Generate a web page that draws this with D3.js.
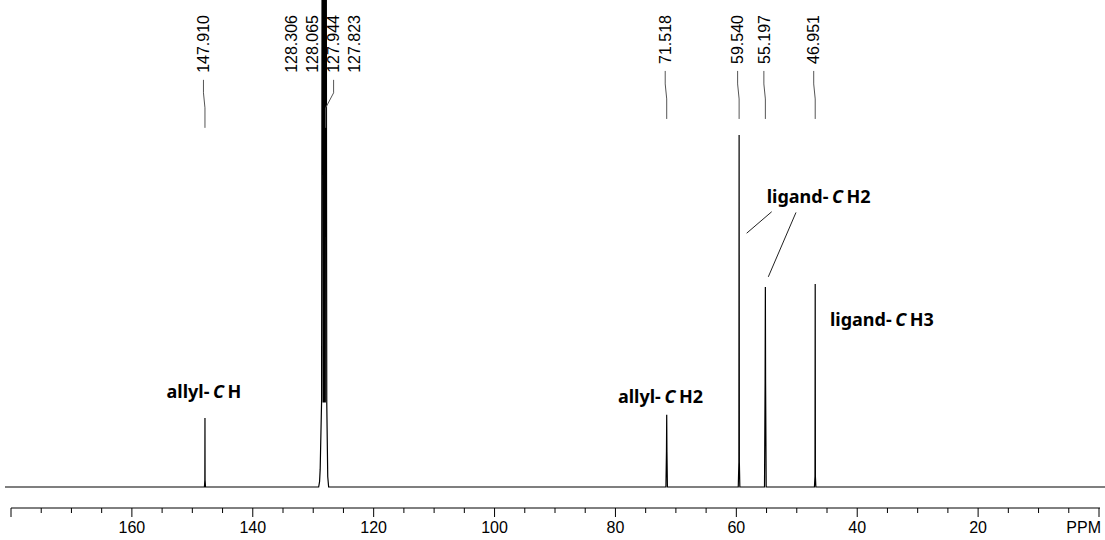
<!DOCTYPE html>
<html>
<head>
<meta charset="utf-8">
<script src="https://cdn.jsdelivr.net/npm/d3@7"></script>
<style>
  html, body { margin: 0; padding: 0; background: #fff; }
  svg { display: block; }
</style>
</head>
<body>
<svg id="chart" width="1105" height="540"></svg>
<script>
// ---------------- data ----------------
// peak-picked chemical shifts (ppm)
const peakLabels = [147.910, 128.306, 128.065, 127.944, 127.823, 71.518, 59.540, 55.197, 46.951];
// labels whose leader line is visible
const leaderShown = [147.910, 127.944, 71.518, 59.540, 55.197, 46.951];

// spectrum trace: chemical shift (ppm) and relative intensity (59.540 peak = 100)
const specPpm = [181,
  148.00, 147.93, 147.910, 147.89, 147.82,
  129.10, 128.95, 128.85, 128.62, 128.42, 128.36, 128.30, 128.24, 128.18, 128.12, 128.06, 128.00, 127.94, 127.76, 127.60, 127.45,
  71.65, 71.56, 71.518, 71.48, 71.40,
  59.68, 59.58, 59.540, 59.50, 59.42,
  55.34, 55.24, 55.197, 55.16, 55.06,
  47.08, 46.99, 46.951, 46.92, 46.84,
  -1.5];
const specInt = [0,
  0, 2, 19.6, 2, 0,
  0, 1.5, 5, 24, 320, 24, 320, 24, 320, 24, 320, 24, 320, 24, 3, 0,
  0, 10, 20.5, 10, 0,
  0, 7, 100, 7, 0,
  0, 30, 56.8, 30, 0,
  0, 3, 57.7, 3, 0,
  0];

// axis ticks
const majorTicks = [180, 160, 140, 120, 100, 80, 60, 40, 20, 0];
const tickLabels = ["", "160", "140", "120", "100", "80", "60", "40", "20", "PPM"];
const minorTicks = d3.range(5, 180, 5).filter(v => v % 20 !== 0);

// annotations: text parts [text, italic?], anchor position in (ppm, intensity)
const annotations = [
  { parts: [["allyl-", false], ["C", true], ["H", false]], ppm: 154.26, val: 25.3 },
  { parts: [["allyl-", false], ["C", true], ["H2", false]], ppm: 79.58, val: 23.9 },
  { parts: [["ligand-", false], ["C", true], ["H2", false]], ppm: 54.98, val: 80.7 },
  { parts: [["ligand-", false], ["C", true], ["H3", false]], ppm: 44.51, val: 45.8 }
];
// annotation pointer lines in (ppm, intensity)
const pointerLines = [
  [[54.15, 78.2], [58.29, 72.1]],
  [[50.13, 78.0], [54.71, 59.7]]
];

// ---------------- layout ----------------
const svg = d3.select("#chart");
const x = d3.scaleLinear().domain([180, 0]).range([11, 1099]);
const y = d3.scaleLinear().domain([0, 100]).range([487, 135]);

svg.append("defs").append("clipPath").attr("id", "clip")
  .append("rect").attr("x", 0).attr("y", 0).attr("width", 1105).attr("height", 500);

// spectrum
const pts = specPpm.map((p, i) => [p, specInt[i]]);
svg.append("path")
  .attr("clip-path", "url(#clip)")
  .attr("d", d3.line().x(d => x(d[0])).y(d => y(d[1]))(pts))
  .attr("fill", "none")
  .attr("stroke", "#000")
  .attr("stroke-width", 1.2)
  .attr("stroke-linejoin", "miter");

// axis
const axisG = svg.append("g").attr("transform", "translate(0,508)");
axisG.append("line").attr("x1", x(180)).attr("x2", x(0) + 1).attr("y1", 0).attr("y2", 0)
  .attr("stroke", "#000").attr("stroke-width", 1);
axisG.selectAll("line.major").data(majorTicks).join("line")
  .attr("class", "major")
  .attr("x1", d => x(d)).attr("x2", d => x(d)).attr("y1", 0).attr("y2", 9)
  .attr("stroke", "#000");
axisG.selectAll("line.minor").data(minorTicks).join("line")
  .attr("class", "minor")
  .attr("x1", d => x(d)).attr("x2", d => x(d)).attr("y1", 0).attr("y2", 5)
  .attr("stroke", "#000");
axisG.selectAll("text.tl").data(majorTicks).join("text")
  .attr("class", "tl")
  .attr("x", d => d === 0 ? x(0) + 2 : x(d))
  .attr("y", 25)
  .attr("text-anchor", d => d === 0 ? "end" : "middle")
  .attr("font-family", "'Liberation Sans', Arial, sans-serif")
  .attr("font-size", 16)
  .attr("fill", "#000")
  .text((d, i) => tickLabels[i]);

// peak labels (spread to avoid overlap)
const sorted = peakLabels.slice().sort((a, b) => b - a);
const minGap = 21;
let groups = sorted.map(p => ({ items: [p], center: x(p) }));
let merged = true;
while (merged) {
  merged = false;
  for (let i = 0; i < groups.length - 1; i++) {
    const a = groups[i], b = groups[i + 1];
    const aRight = a.center + (a.items.length - 1) * minGap / 2;
    const bLeft = b.center - (b.items.length - 1) * minGap / 2;
    if (bLeft - aRight < minGap) {
      const items = a.items.concat(b.items);
      const c = d3.mean(items, p => x(p)) - 2;
      groups.splice(i, 2, { items, center: c });
      merged = true;
      break;
    }
  }
}
const labelPos = [];
groups.forEach(g => {
  g.items.forEach((p, k) => {
    labelPos.push({ p, lx: g.items.length === 1 ? x(p) - 1.5 : g.center + (k - (g.items.length - 1) / 2) * minGap });
  });
});

const labG = svg.append("g");
labelPos.forEach(d => {
  const t = labG.append("text")
    .attr("transform", `translate(${d.lx},15) rotate(-90)`)
    .attr("text-anchor", "end")
    .attr("dy", "0.36em")
    .attr("font-family", "'Liberation Sans', Arial, sans-serif")
    .attr("font-size", 16)
    .attr("fill", "#000")
    .text(d.p.toFixed(3));
  const len = t.node().getComputedTextLength();
  const top = 15 + len + 7;
  if (leaderShown.includes(d.p)) {
    const px = x(d.p);
    const path = d3.path();
    path.moveTo(d.lx, top);
    path.lineTo(d.lx, top + 13);
    path.lineTo(px, top + 28);
    path.lineTo(px, top + 48);
    labG.append("path").attr("d", path.toString())
      .attr("fill", "none").attr("stroke", "#555").attr("stroke-width", 1);
  }
});

// annotations
const annG = svg.append("g");
annotations.forEach(a => {
  const t = annG.append("text")
    .attr("x", x(a.ppm)).attr("y", y(a.val))
    .attr("font-family", "'Noto Sans', 'Open Sans', sans-serif")
    .attr("font-weight", "bold")
    .attr("font-size", 18)
    .attr("fill", "#000");
  a.parts.forEach(([s, it], i) => {
    t.append("tspan")
      .attr("dx", i === 0 ? 0 : 3.5)
      .attr("font-style", it ? "italic" : "normal")
      .text(s);
  });
});
pointerLines.forEach(l => {
  annG.append("line")
    .attr("x1", x(l[0][0])).attr("y1", y(l[0][1]))
    .attr("x2", x(l[1][0])).attr("y2", y(l[1][1]))
    .attr("stroke", "#222").attr("stroke-width", 1);
});
</script>
</body>
</html>
